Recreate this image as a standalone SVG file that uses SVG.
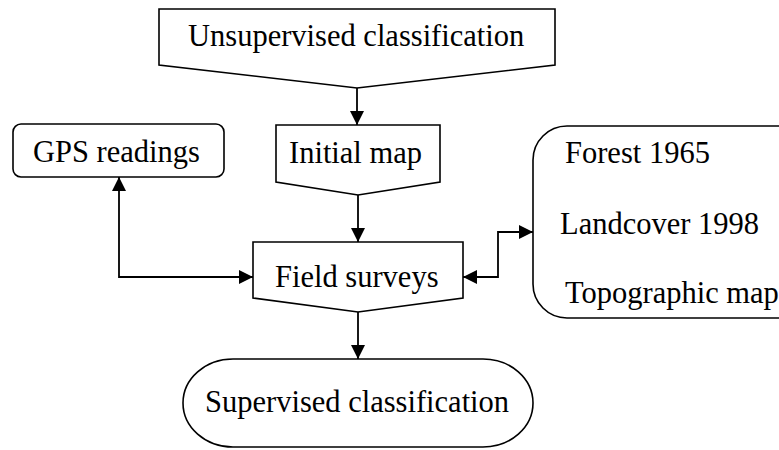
<svg xmlns="http://www.w3.org/2000/svg" width="779" height="450" viewBox="0 0 779 450">
<style>
.s{fill:#fff;stroke:#000;stroke-width:1.6;stroke-linejoin:miter}
.t{font-family:"Liberation Serif","Times New Roman",serif;font-size:30.5px;fill:#000}
.c{fill:none;stroke:#000;stroke-width:1.8}
</style>
<defs>
<marker id="ah" viewBox="0 0 14 14" refX="14" refY="7" markerWidth="14" markerHeight="14" markerUnits="userSpaceOnUse" orient="auto-start-reverse">
<path d="M0,0 L14,7 L0,14 Z" fill="#000"/>
</marker>
</defs>
<rect width="779" height="450" fill="#fff"/>
<g id="unsupervised">
<path class="s" d="M159,9 H555 V65 L357,88 L159,65 Z"/>
<text class="t" x="188" y="46">Unsupervised classification</text>
</g>
<g id="gps">
<rect class="s" x="13" y="124" width="211" height="53" rx="8"/>
<text class="t" x="33" y="162">GPS readings</text>
</g>
<g id="initial">
<path class="s" d="M276,125 H440 V182 L358,195 L276,182 Z"/>
<text class="t" x="289" y="163">Initial map</text>
</g>
<g id="field">
<path class="s" d="M253,242 H463 V298 L358,312 L253,298 Z"/>
<text class="t" x="275" y="287">Field surveys</text>
</g>
<g id="sources">
<rect class="s" x="533" y="126" width="290" height="192" rx="34"/>
<text class="t" x="565" y="163">Forest 1965</text>
<text class="t" x="560" y="234">Landcover 1998</text>
<text class="t" x="565" y="303">Topographic map</text>
</g>
<g id="supervised">
<path class="s" d="M233,359 H483 A50,44 0 0 1 483,447 H233 A50,44 0 0 1 233,359 Z"/>
<text class="t" x="205" y="412">Supervised classification</text>
</g>
<g id="connectors">
<path class="c" d="M357,88 V125" marker-end="url(#ah)"/>
<path class="c" d="M358,195 V242" marker-end="url(#ah)"/>
<path class="c" d="M358,312 V359" marker-end="url(#ah)"/>
<path class="c" d="M119,177 V277 H253" marker-start="url(#ah)" marker-end="url(#ah)"/>
<path class="c" d="M463,277 H498 V232 H533" marker-start="url(#ah)" marker-end="url(#ah)"/>
</g>
</svg>
